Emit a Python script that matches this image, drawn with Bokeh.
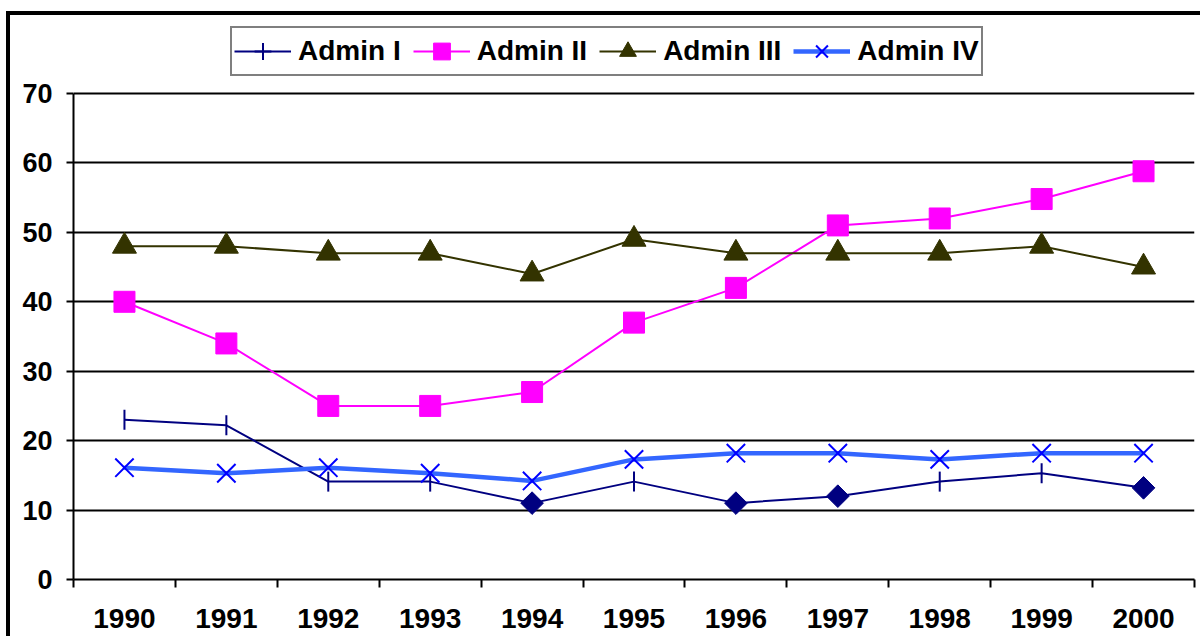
import math
from bokeh.plotting import figure
from bokeh.models import FixedTicker, Legend, LegendItem, ColumnDataSource, Range1d
from bokeh.embed import file_html
from bokeh.resources import INLINE

years = ["1990", "1991", "1992", "1993", "1994", "1995", "1996", "1997", "1998", "1999", "2000"]
admin1 = [23.0, 22.2, 14.1, 14.1, 11.0, 14.1, 11.0, 12.0, 14.1, 15.3, 13.2]
admin1_diamond_years = ["1994", "1996", "1997", "2000"]
admin2 = [40.0, 34.0, 25.0, 25.0, 27.0, 37.0, 42.0, 51.0, 52.0, 54.8, 58.8]
admin3 = [48.0, 48.0, 47.0, 47.0, 44.0, 49.0, 47.0, 47.0, 47.0, 48.0, 45.0]
admin4 = [16.1, 15.3, 16.1, 15.3, 14.2, 17.3, 18.2, 18.2, 17.3, 18.2, 18.2]
y_ticks = [0, 10, 20, 30, 40, 50, 60, 70]

xs = list(range(len(years)))
FONT = "Liberation Sans"

# layout (pixels)
W, H = 1194, 625
MB_TOP, MB_BOTTOM = 2, 61
FRAME_H = H - MB_TOP - MB_BOTTOM
AXIS_H = 486          # pixel height of the 0..70 value span
y_top = y_ticks[-1] * FRAME_H / AXIS_H   # extra room above 70 holds the legend

p = figure(width=W, height=H, output_backend="svg", toolbar_location=None,
           x_range=Range1d(-0.5, len(years) - 0.5), y_range=Range1d(y_ticks[0], y_top),
           min_border_left=63, min_border_right=10, min_border_top=MB_TOP,
           min_border_bottom=MB_BOTTOM)
p.styles = {"border-left": "4px solid black", "border-top": "4px solid black",
            "margin-top": "11px", "margin-left": "6px"}
p.background_fill_color = "white"
p.border_fill_color = "white"
p.outline_line_color = None

NAVY = "#000080"

# Admin I
src1 = ColumnDataSource(dict(x=xs, y=admin1))
d_idx = [years.index(yr) for yr in admin1_diamond_years]
n_idx = [i for i in xs if i not in d_idx]
src1n = ColumnDataSource(dict(x=[xs[i] for i in n_idx], y=[admin1[i] for i in n_idx]))
src1d = ColumnDataSource(dict(x=[xs[i] for i in d_idx], y=[admin1[i] for i in d_idx]))
l1 = p.line("x", "y", source=src1, line_color=NAVY, line_width=2)
p.scatter("x", "y", source=src1n, marker="dash", angle=math.pi / 2, size=20,
          line_color=NAVY, line_width=2)
# legend-only symbol (vertical tick on the legend line); zero size in the plot
s1_leg = p.scatter("x", "y", source=src1n, marker="cross", size=0,
                   line_color=NAVY, line_width=2)
p.scatter("x", "y", source=src1d, marker="square", angle=math.pi / 4, size=16,
          fill_color=NAVY, line_color=NAVY)

# Admin II
src2 = ColumnDataSource(dict(x=xs, y=admin2))
l2 = p.line("x", "y", source=src2, line_color="#FF00FF", line_width=2)
s2 = p.scatter("x", "y", source=src2, marker="square", size=21,
               fill_color="#FF00FF", line_color="#FF00FF")

# Admin III
src3 = ColumnDataSource(dict(x=xs, y=admin3))
l3 = p.line("x", "y", source=src3, line_color="#333300", line_width=2)
s3 = p.scatter("x", "y", source=src3, marker="triangle", size=24,
               fill_color="#333300", line_color="#333300")

# Admin IV
src4 = ColumnDataSource(dict(x=xs, y=admin4))
l4 = p.line("x", "y", source=src4, line_color="#3366FF", line_width=4.5)
s4 = p.scatter("x", "y", source=src4, marker="x", size=26,
               line_color="#0000FF", line_width=2)

# axes
xa = p.xaxis[0]
xa.ticker = FixedTicker(ticks=xs, minor_ticks=[i - 0.5 for i in range(len(years) + 1)])
xa.major_label_overrides = {i: yr for i, yr in enumerate(years)}
xa.major_tick_out = 0
xa.major_tick_in = 0
xa.minor_tick_out = 8
xa.minor_tick_in = 0
xa.minor_tick_line_color = "black"
xa.minor_tick_line_width = 2
xa.axis_line_width = 2
xa.axis_line_color = "black"
xa.major_label_standoff = 21
xa.major_label_text_font = FONT
xa.major_label_text_font_style = "bold"
xa.major_label_text_font_size = "28px"
xa.major_label_text_color = "black"

ya = p.yaxis[0]
ya.ticker = FixedTicker(ticks=y_ticks, minor_ticks=[])
ya.bounds = (y_ticks[0], y_ticks[-1])
ya.major_tick_out = 7
ya.major_tick_in = 0
ya.major_tick_line_width = 2
ya.major_tick_line_color = "black"
ya.axis_line_width = 2
ya.axis_line_color = "black"
ya.major_label_standoff = 14
ya.major_label_text_font = FONT
ya.major_label_text_font_style = "bold"
ya.major_label_text_font_size = "27px"
ya.major_label_text_color = "black"

p.xgrid.visible = False
p.ygrid.ticker = FixedTicker(ticks=y_ticks[1:])
p.ygrid.grid_line_color = "black"
p.ygrid.grid_line_width = 2

legend = Legend(items=[
    LegendItem(label="Admin I", renderers=[l1, s1_leg]),
    LegendItem(label="Admin II", renderers=[l2, s2]),
    LegendItem(label="Admin III", renderers=[l3, s3]),
    LegendItem(label="Admin IV", renderers=[l4, s4]),
], orientation="horizontal", location=(157, 503), glyph_width=57, glyph_height=42,
    label_standoff=7, spacing=12, padding=2, margin=0,
    border_line_color="black", border_line_width=2, background_fill_color="white",
    background_fill_alpha=1,
    label_text_font=FONT, label_text_font_style="bold", label_text_font_size="28px",
    label_text_color="black")
p.add_layout(legend)

open("out.html", "w").write(file_html(p, INLINE))
